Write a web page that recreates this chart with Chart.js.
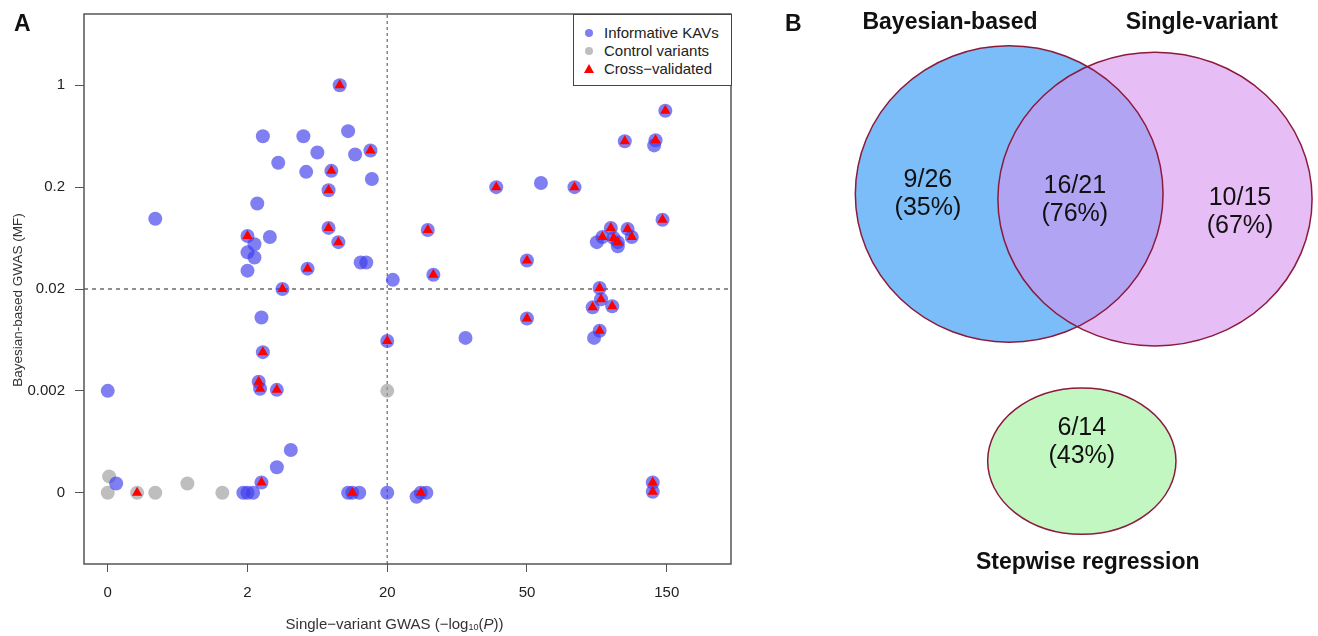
<!DOCTYPE html>
<html lang="en">
  <head>
    <meta charset="UTF-8" />
    <title>KAV validation</title>
    <script src="https://cdn.jsdelivr.net/npm/chart.js"></script>
    <style>
      body {
        margin: 0;
        background: #fff;
        font-family: "Liberation Sans", Arial, sans-serif;
      }
      #wrap {
        position: relative;
        width: 1318px;
        height: 636px;
        overflow: hidden;
      }
      .letter {
        position: absolute;
        font-weight: bold;
        font-size: 23px;
        color: #111;
        line-height: 1;
      }
      #boxA {
        position: absolute;
        left: 0;
        top: 0;
        width: 760px;
        height: 636px;
      }
      #boxB {
        position: absolute;
        left: 780px;
        top: 0;
        width: 538px;
        height: 636px;
      }
      #legendA {
        position: absolute;
        left: 573px;
        top: 14px;
        width: 157px;
        height: 70px;
        border: 1px solid #444;
        background: #fff;
        box-sizing: content-box;
      }
      #legendA ul {
        list-style: none;
        margin: 0;
        padding: 9px 0 0 0;
      }
      #legendA li {
        position: relative;
        height: 18px;
        line-height: 18px;
        padding-left: 30px;
        font-size: 15px;
        color: #222;
        white-space: nowrap;
      }
      #legendA .sym {
        position: absolute;
        left: 11px;
        top: 5px;
        width: 8px;
        height: 8px;
        border-radius: 50%;
      }
      #legendA .tri {
        position: absolute;
        left: 10px;
        top: 4px;
        width: 0;
        height: 0;
        border-left: 5px solid transparent;
        border-right: 5px solid transparent;
        border-bottom: 9px solid red;
      }
    </style>
  </head>

  <body>
    <div id="wrap">
      <div id="boxA"><canvas id="chartA"></canvas></div>
      <div id="boxB"><canvas id="chartB"></canvas></div>
      <div id="legendA"></div>
      <div class="letter" style="left: 14px; top: 12px">A</div>
      <div class="letter" style="left: 785px; top: 12px">B</div>
    </div>

    <script>
      // axis labels (the axes are stretched, one tick per unit)
      const xTickLabels = ["0", "2", "20", "50", "150"];
      const yTickLabels = ["0", "0.002", "0.02", "0.2", "1"];

      // informative KAVs (positions in tick units)
      const kavX = [
        1.66, 1.11, 1.4, 1.72, 1.5, 1.77, 1.88, 1.22, 1.42, 1.6, 1.89, 1.58,
        1.07, 0.34, 1.58, 1.0, 1.16, 1.65, 1.05, 1.0, 1.05, 1.43, 1.81, 1.85,
        1.0, 1.25, 2.04, 2.29, 2.33, 1.1, 3.99, 3.7, 3.92, 3.91, 2.78, 3.1,
        3.34, 3.97, 3.54, 3.6, 3.62, 3.65, 3.72, 3.75, 3.5, 3.65, 3.0, 3.52,
        3.53, 3.47, 3.61, 3.0, 3.52, 3.48, 2.56, 2.0, 2.0, 2.21, 2.24, 2.28,
        3.9, 3.9, 1.11, 1.08, 1.09, 1.21, 0.0, 1.31, 1.21, 1.1, 0.06, 0.97,
        1.0, 1.04, 1.72, 1.75, 1.8,
      ];
      const kavY = [
        4.0, 3.5, 3.5, 3.55, 3.34, 3.32, 3.36, 3.24, 3.15, 3.16, 3.08, 2.97,
        2.84, 2.69, 2.6, 2.52, 2.51, 2.46, 2.44, 2.36, 2.31, 2.2, 2.26, 2.26,
        2.18, 2.0, 2.09, 2.58, 2.14, 1.72, 3.75, 3.45, 3.46, 3.41, 3.0, 3.04,
        3.0, 2.68, 2.51, 2.6, 2.5, 2.46, 2.59, 2.51, 2.46, 2.42, 2.28, 2.01,
        1.9, 1.82, 1.83, 1.71, 1.59, 1.52, 1.52, 1.49, 0.0, -0.04, 0.0, 0.0,
        0.1, 0.01, 1.38, 1.09, 1.02, 1.01, 1.0, 0.42, 0.25, 0.1, 0.09, 0.0,
        0.0, 0.0, 0.0, 0.0, 0.0,
      ];

      // control variants
      const controlX = [0.01, 0.0, 0.21, 0.34, 0.57, 0.82, 2.0];
      const controlY = [0.16, 0.0, 0.0, 0.0, 0.09, 0.0, 1.0];

      // cross-validated variants
      const crossX = [
        1.66, 1.88, 1.6, 1.58, 1.58, 1.0, 1.65, 1.43, 1.25, 2.29, 2.33, 3.99,
        3.7, 3.92, 2.78, 3.34, 3.97, 3.54, 3.6, 3.62, 3.65, 3.72, 3.75, 3.0,
        3.52, 3.53, 3.47, 3.61, 3.0, 3.52, 2.0, 2.24, 3.9, 3.9, 1.11, 1.08,
        1.09, 1.21, 1.1, 1.75, 0.21,
      ];
      const crossY = [
        4.0, 3.36, 3.16, 2.97, 2.6, 2.52, 2.46, 2.2, 2.0, 2.58, 2.14, 3.75,
        3.45, 3.46, 3.0, 3.0, 2.68, 2.51, 2.6, 2.5, 2.46, 2.59, 2.51, 2.28,
        2.01, 1.9, 1.82, 1.83, 1.71, 1.59, 1.49, 0.0, 0.1, 0.01, 1.38, 1.09,
        1.02, 1.01, 0.1, 0.0, 0.0,
      ];

      // threshold lines ("20" on x, "0.02" on y)
      const thresholdX = 2;
      const thresholdY = 2;

      // venn diagram counts
      const setNames = ["Bayesian-based", "Single-variant", "Stepwise regression"];
      const regionValidated = [9, 16, 10, 6];
      const regionTotal = [26, 21, 15, 14];

      const xMin = -0.17, xMax = 4.46;
      const yMin = -0.7, yMax = 4.7;
      const fontFamily = '"Liberation Sans", Arial, sans-serif';

      function toPoints(xs, ys) {
        return xs.map((x, i) => ({ x: x, y: ys[i] }));
      }

      // box round the plot plus R-style axis titles
      const frameBox = {
        id: "frameBox",
        afterDraw(chart) {
          const { ctx, chartArea } = chart;
          const { left, top, right, bottom } = chartArea;
          ctx.save();
          ctx.strokeStyle = "#555";
          ctx.lineWidth = 1.5;
          ctx.strokeRect(left, top, right - left, bottom - top);

          ctx.fillStyle = "#333";
          ctx.textBaseline = "middle";

          // x title with subscript and italic P
          const parts = [
            { t: "Single\u2212variant GWAS (\u2212log", f: "15px", dy: 0 },
            { t: "10", f: "9px", dy: 3 },
            { t: "(", f: "15px", dy: 0 },
            { t: "P", f: "italic 15px", dy: 0 },
            { t: "))", f: "15px", dy: 0 },
          ];
          let total = 0;
          parts.forEach((p) => {
            ctx.font = p.f + " " + fontFamily;
            p.w = ctx.measureText(p.t).width;
            total += p.w;
          });
          let cx = (left + right) / 2 - 13 - total / 2;
          const ty = bottom + 61;
          ctx.textAlign = "left";
          parts.forEach((p) => {
            ctx.font = p.f + " " + fontFamily;
            ctx.fillText(p.t, cx, ty + p.dy);
            cx += p.w;
          });

          // y title
          ctx.translate(left - 66, (top + bottom) / 2 + 11);
          ctx.rotate(-Math.PI / 2);
          ctx.textAlign = "center";
          ctx.font = "13.5px " + fontFamily;
          ctx.fillText("Bayesian-based GWAS (MF)", 0, 0);
          ctx.restore();
        },
      };

      const chartA = new Chart(document.getElementById("chartA"), {
        type: "scatter",
        data: {
          datasets: [
            {
              label: "Informative KAVs",
              data: toPoints(kavX, kavY),
              backgroundColor: "rgba(60,60,235,0.66)",
              borderWidth: 0,
              pointRadius: 7,
              order: 2,
            },
            {
              label: "Control variants",
              data: toPoints(controlX, controlY),
              backgroundColor: "rgba(150,150,150,0.62)",
              borderWidth: 0,
              pointRadius: 7,
              order: 3,
            },
            {
              label: "Cross\u2212validated",
              data: toPoints(crossX, crossY),
              pointStyle: "triangle",
              backgroundColor: "#ff0000",
              borderWidth: 0,
              pointRadius: 6,
              order: 1,
            },
            {
              type: "line",
              label: "",
              data: [
                { x: xMin, y: thresholdY },
                { x: xMax, y: thresholdY },
              ],
              borderColor: "#444",
              borderDash: [4, 4],
              borderWidth: 1.2,
              pointRadius: 0,
              order: 4,
            },
            {
              type: "line",
              label: "",
              data: [
                { x: thresholdX, y: yMin },
                { x: thresholdX, y: yMax },
              ],
              borderColor: "#888",
              borderDash: [3, 3],
              borderWidth: 1.5,
              pointRadius: 0,
              order: 5,
            },
          ],
        },
        options: {
          responsive: true,
          maintainAspectRatio: false,
          animation: false,
          layout: { padding: { top: 14, right: 29, left: 0, bottom: 0 } },
          plugins: {
            legend: { display: false },
            tooltip: { enabled: false },
          },
          scales: {
            x: {
              type: "linear",
              min: xMin,
              max: xMax,
              afterBuildTicks: (s) => {
                s.ticks = xTickLabels.map((_, i) => ({ value: i }));
              },
              afterFit: (s) => {
                s.height = 72;
                s.paddingLeft = 0;
                s.paddingRight = 0;
              },
              ticks: {
                callback: (v) => xTickLabels[Math.round(v)],
                font: { family: fontFamily, size: 15 },
                color: "#222",
                padding: 12,
                maxRotation: 0,
              },
              grid: {
                drawOnChartArea: false,
                drawTicks: true,
                tickLength: 8,
                tickColor: "#555",
              },
              border: { display: false },
            },
            y: {
              type: "linear",
              min: yMin,
              max: yMax,
              afterBuildTicks: (s) => {
                s.ticks = yTickLabels.map((_, i) => ({ value: i }));
              },
              afterFit: (s) => {
                s.width = 84;
                s.paddingTop = 0;
                s.paddingBottom = 0;
              },
              ticks: {
                callback: (v) => yTickLabels[Math.round(v)],
                font: { family: fontFamily, size: 15 },
                color: "#222",
                padding: 10,
              },
              grid: {
                drawOnChartArea: false,
                drawTicks: true,
                tickLength: 9,
                tickColor: "#555",
              },
              border: { display: false },
            },
          },
        },
        plugins: [frameBox],
      });

      // html legend built from the chart datasets
      const legendList = document.createElement("ul");
      chartA.data.datasets.forEach((ds) => {
        if (!ds.label) return;
        const li = document.createElement("li");
        const sym = document.createElement("span");
        if (ds.pointStyle === "triangle") {
          sym.className = "tri";
          sym.style.borderBottomColor = ds.backgroundColor;
        } else {
          sym.className = "sym";
          sym.style.background = ds.backgroundColor;
        }
        li.appendChild(sym);
        li.appendChild(document.createTextNode(ds.label));
        legendList.appendChild(li);
      });
      document.getElementById("legendA").appendChild(legendList);

      // venn layout, in units of the hidden 0-100 scales of chart B
      const vennShapes = [
        { cx: 42.6, cy: 69.5, rx: 28.6, ry: 23.3, fill: "#7bbdf9" },
        { cx: 69.7, cy: 68.7, rx: 29.2, ry: 23.1, fill: "rgba(213,147,238,0.6)" },
        { cx: 56.1, cy: 27.5, rx: 17.5, ry: 11.5, fill: "#c2f7c2" },
      ];
      const setTitlePos = [
        [31.6, 96.5],
        [78.4, 96.5],
        [57.2, 11.6],
      ];
      const regionLabelPos = [
        [27.5, 69.5],
        [54.8, 68.6],
        [85.5, 66.7],
        [56.1, 30.5],
      ];

      const vennDraw = {
        id: "vennDraw",
        afterDraw(chart) {
          const { ctx } = chart;
          const sx = chart.scales.x;
          const sy = chart.scales.y;
          ctx.save();
          const geo = vennShapes.map((s) => ({
            x: sx.getPixelForValue(s.cx),
            y: sy.getPixelForValue(s.cy),
            rx: Math.abs(sx.getPixelForValue(s.cx + s.rx) - sx.getPixelForValue(s.cx)),
            ry: Math.abs(sy.getPixelForValue(s.cy + s.ry) - sy.getPixelForValue(s.cy)),
          }));
          geo.forEach((g, i) => {
            ctx.beginPath();
            ctx.ellipse(g.x, g.y, g.rx, g.ry, 0, 0, Math.PI * 2);
            ctx.fillStyle = vennShapes[i].fill;
            ctx.fill();
          });
          ctx.strokeStyle = "#8b1a3c";
          ctx.lineWidth = 1.5;
          geo.forEach((g) => {
            ctx.beginPath();
            ctx.ellipse(g.x, g.y, g.rx, g.ry, 0, 0, Math.PI * 2);
            ctx.stroke();
          });

          ctx.textAlign = "center";
          ctx.textBaseline = "middle";
          ctx.fillStyle = "#111";
          ctx.font = "bold 23px " + fontFamily;
          setNames.forEach((name, i) => {
            ctx.fillText(
              name,
              sx.getPixelForValue(setTitlePos[i][0]),
              sy.getPixelForValue(setTitlePos[i][1])
            );
          });

          ctx.font = "25px " + fontFamily;
          regionValidated.forEach((n, i) => {
            const px = sx.getPixelForValue(regionLabelPos[i][0]);
            const py = sy.getPixelForValue(regionLabelPos[i][1]);
            const pct = Math.round((100 * n) / regionTotal[i]);
            ctx.fillText(n + "/" + regionTotal[i], px, py - 14);
            ctx.fillText("(" + pct + "%)", px, py + 14);
          });
          ctx.restore();
        },
      };

      new Chart(document.getElementById("chartB"), {
        type: "scatter",
        data: { datasets: [] },
        options: {
          responsive: true,
          maintainAspectRatio: false,
          animation: false,
          layout: { padding: 0 },
          plugins: {
            legend: { display: false },
            tooltip: { enabled: false },
          },
          scales: {
            x: { type: "linear", min: 0, max: 100, display: false },
            y: { type: "linear", min: 0, max: 100, display: false },
          },
        },
        plugins: [vennDraw],
      });
    </script>
  </body>
</html>
